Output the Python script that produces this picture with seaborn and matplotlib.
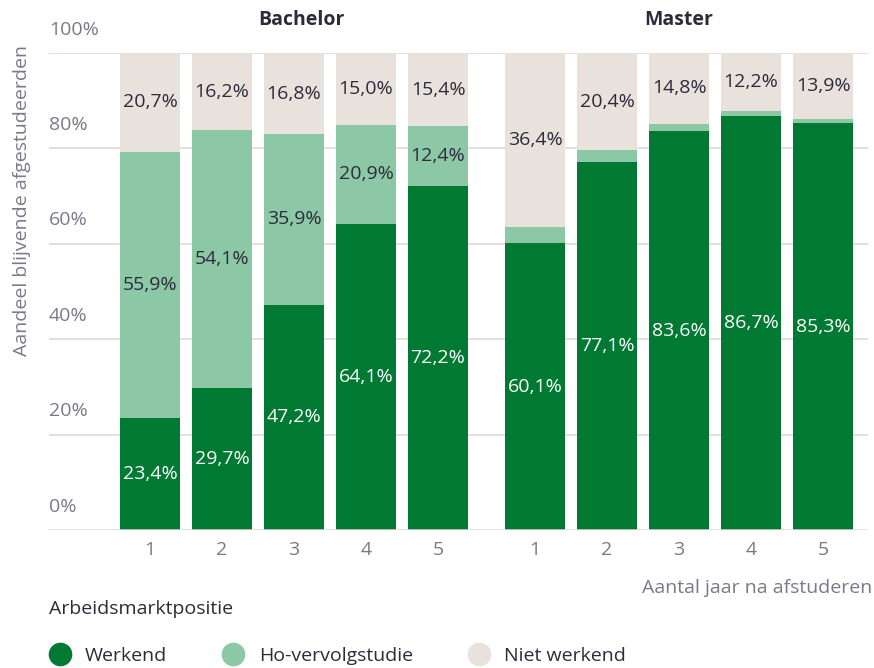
import numpy as np
import pandas as pd
import matplotlib
matplotlib.use("Agg")
import matplotlib.pyplot as plt
import matplotlib.transforms as mtransforms
from matplotlib.lines import Line2D
import seaborn as sns

jaren = ["1", "2", "3", "4", "5"]
groepen = ["Bachelor", "Master"]
werkend = {"Bachelor": [23.4, 29.7, 47.2, 64.1, 72.2],
           "Master": [60.1, 77.1, 83.6, 86.7, 85.3]}
vervolgstudie = {"Bachelor": [55.9, 54.1, 35.9, 20.9, 12.4],
                 "Master": [3.5, 2.5, 1.6, 1.1, 0.8]}
niet_werkend = {"Bachelor": [20.7, 16.2, 16.8, 15.0, 15.4],
                "Master": [36.4, 20.4, 14.8, 12.2, 13.9]}
y_ticks = [0, 20, 40, 60, 80, 100]

kleur_werkend = "#007a33"
kleur_vervolg = "#8dc8a6"
kleur_niet = "#e8e1dc"
donker = "#2c2b3c"
grijs = "#7b7988"
lijn = "#e0d8d3"
FS = 14

sns.set_theme(style="white")
plt.rcParams["font.family"] = ["Open Sans", "DejaVu Sans"]


def fmt(v):
    return f"{v:.1f}".replace(".", ",") + "%"


fig = plt.figure(figsize=(8.74, 6.68), dpi=100)
W, H = 874, 668
ax_bottom = 1 - 530 / H
ax_height = (530 - 53) / H
ax1 = fig.add_axes([49 / W, ax_bottom, (487 - 49) / W, ax_height])
ax2 = fig.add_axes([487 / W, ax_bottom, (868 - 487) / W, ax_height])
xlims = {"Bachelor": (-1.403, 4.68), "Master": (-0.667, 4.625)}
title_x = {"Bachelor": 2.1, "Master": 2.0}

for ax, groep in zip([ax1, ax2], groepen):
    df = pd.DataFrame({
        "jaar": jaren,
        "werkend": werkend[groep],
        "vervolg": vervolgstudie[groep],
        "niet": niet_werkend[groep],
    })
    df["cum_vervolg"] = df["werkend"] + df["vervolg"]
    df["cum_totaal"] = df["cum_vervolg"] + df["niet"]

    for yv in y_ticks[1:]:
        ax.axhline(yv, color=lijn, lw=1.2, zorder=0)

    for col, kleur in [("cum_totaal", kleur_niet), ("cum_vervolg", kleur_vervolg),
                       ("werkend", kleur_werkend)]:
        sns.barplot(data=df, x="jaar", y=col, color=kleur, saturation=1,
                    width=0.833, linewidth=0, ax=ax, zorder=2)
    ax.axhline(0, color=lijn, lw=1.8, zorder=3)

    for i, row in df.iterrows():
        ax.text(i, row["werkend"] / 2, fmt(row["werkend"]), ha="center", va="center",
                color="white", fontsize=FS, zorder=4)
        if row["vervolg"] >= 5:
            ax.text(i, row["werkend"] + row["vervolg"] / 2, fmt(row["vervolg"]),
                    ha="center", va="center", color=donker, fontsize=FS, zorder=4)
        ax.text(i, row["cum_vervolg"] + row["niet"] / 2, fmt(row["niet"]),
                ha="center", va="center", color=donker, fontsize=FS, zorder=4)

    ax.set_xlim(*xlims[groep])
    ax.set_ylim(0, 100)
    ax.set_xlabel("")
    ax.set_ylabel("")
    ax.set_yticks([])
    ax.tick_params(axis="x", length=0, pad=8, labelsize=FS, labelcolor=grijs)
    sns.despine(ax=ax, left=True, bottom=True)
    ax.patch.set_alpha(0)

    trans = mtransforms.blended_transform_factory(ax.transData, ax.transAxes)
    ax.text(title_x[groep], 1.069, groep, transform=trans, ha="center", va="center",
            fontsize=FS, fontweight="bold", color=donker)

trans1 = mtransforms.blended_transform_factory(ax1.transAxes, ax1.transData)
for yv in y_ticks:
    ax1.text(0, yv + 4.9, f"{yv}%", transform=trans1, ha="left", va="center",
             fontsize=FS, color=grijs)

fig.text(22 / W, 1 - 201 / H, "Aandeel blijvende afgestudeerden", rotation=90,
         ha="center", va="center", fontsize=FS, color=grijs)
fig.text(872 / W, 1 - 588 / H, "Aantal jaar na afstuderen", ha="right", va="center",
         fontsize=FS, color=grijs)
fig.text(49 / W, 1 - 609 / H, "Arbeidsmarktpositie", ha="left", va="center",
         fontsize=FS, color=donker)

handles = [
    Line2D([], [], marker="o", linestyle="", markersize=16, color=kleur_werkend),
    Line2D([], [], marker="o", linestyle="", markersize=16, color=kleur_vervolg),
    Line2D([], [], marker="o", linestyle="", markersize=16, color=kleur_niet),
]
leg = fig.legend(handles, ["Werkend", "Ho-vervolgstudie", "Niet werkend"],
                 loc="center left", bbox_to_anchor=(50 / W, 1 - 656 / H), ncol=3,
                 frameon=False, borderpad=0, borderaxespad=0, handlelength=1.0,
                 handletextpad=0.8, columnspacing=2.9, fontsize=FS)
for t in leg.get_texts():
    t.set_color(donker)

fig.savefig("out.png", dpi=100)
